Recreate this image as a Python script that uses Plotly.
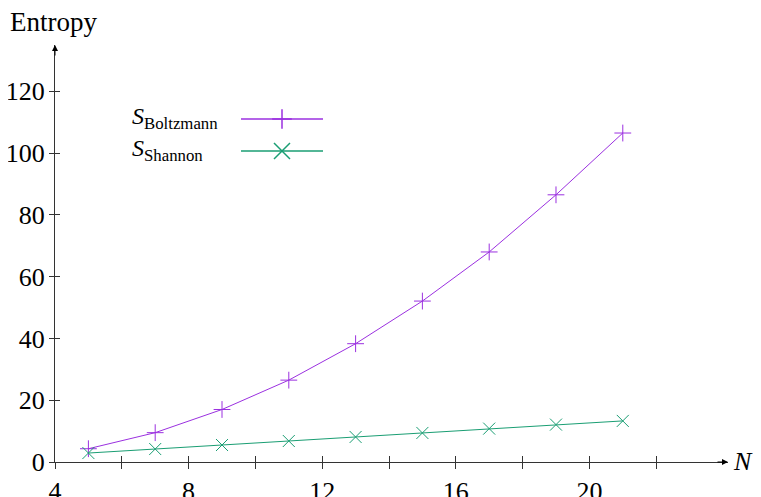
import plotly.graph_objects as go

N = [5, 7, 9, 11, 13, 15, 17, 19, 21]
S_boltzmann = [4.3, 9.5, 17.0, 26.5, 38.3, 52.1, 68.0, 86.5, 106.5]
S_shannon = [2.9, 4.2, 5.5, 6.8, 8.1, 9.4, 10.8, 12.1, 13.3]

x_ticks = [4, 6, 8, 10, 12, 14, 16, 18, 20, 22]
x_ticklabels = ["4", "", "8", "", "12", "", "16", "", "20", ""]
y_ticks = [0, 20, 40, 60, 80, 100, 120]

PURPLE = "#9b30e0"
GREEN = "#1a9e73"
AX = "#333333"
FONT = "Liberation Serif"

X_RANGE = [4, 24.15]
Y_RANGE = [0, 135]

# the page body has an 8px margin; work in screenshot pixel coordinates
OFF = 8
PL, PR, PT, PB = 55, 728, 45, 462          # plot area in screenshot pixels
W, H = 761 - OFF, 497 - OFF
L, T = PL - OFF, PT - OFF
R, B = W - (PR - OFF), H - (PB - OFF)
PW, PH = PR - PL, PB - PT


def px_to_paper(px, py):
    return (px - PL) / PW, (PB - py) / PH


fig = go.Figure()

fig.add_trace(go.Scatter(
    x=N, y=S_boltzmann, mode="lines+markers", name="S_Boltzmann",
    line=dict(color=PURPLE, width=1),
    marker=dict(symbol="cross-thin", size=12, line=dict(color=PURPLE, width=1), color=PURPLE),
    showlegend=False, cliponaxis=False))
fig.add_trace(go.Scatter(
    x=N, y=S_shannon, mode="lines+markers", name="S_Shannon",
    line=dict(color=GREEN, width=1),
    marker=dict(symbol="x-thin", size=12, line=dict(color=GREEN, width=1), color=GREEN),
    showlegend=False, cliponaxis=False))

# overlay axes for the other half of the crossing ticks
fig.add_trace(go.Scatter(x=[None], y=[None], xaxis="x3", yaxis="y3", showlegend=False, hoverinfo="skip"))

# custom legend (screenshot-pixel coords on separate hidden axes)
legend_items = [("<i>S</i><sub>Boltzmann</sub>", PURPLE, "cross-thin", 119, 14),
                ("<i>S</i><sub>Shannon</sub>", GREEN, "x-thin", 151, 16)]
for label, col, sym, py, msize in legend_items:
    fig.add_trace(go.Scatter(x=[241, 323], y=[py, py], xaxis="x2", yaxis="y2", mode="lines",
                             line=dict(color=col, width=1.5), showlegend=False, hoverinfo="skip"))
    fig.add_trace(go.Scatter(x=[282], y=[py], xaxis="x2", yaxis="y2", mode="markers",
                             marker=dict(symbol=sym, size=msize, line=dict(color=col, width=1.5), color=col),
                             showlegend=False, hoverinfo="skip", cliponaxis=False))
    fig.add_annotation(x=130, y=py - 1, xref="x2", yref="y2", text=label, showarrow=False,
                       xanchor="left", yanchor="middle",
                       font=dict(family=FONT, size=24, color="black"))

fig.update_layout(
    width=W, height=H,
    margin=dict(l=L, r=R, t=T, b=B, autoexpand=False),
    paper_bgcolor="white", plot_bgcolor="white",
    font=dict(family=FONT, size=26, color="black"),
    xaxis=dict(range=X_RANGE, tickvals=x_ticks, ticktext=x_ticklabels,
               ticks="outside", ticklen=6, tickcolor=AX, tickwidth=1,
               showline=True, linecolor=AX, linewidth=1, showgrid=False, zeroline=False,
               ticklabelstandoff=0, tickfont=dict(size=26), automargin=False),
    yaxis=dict(range=Y_RANGE, tickvals=y_ticks,
               ticks="inside", ticklen=5, tickcolor=AX, tickwidth=1,
               showline=True, linecolor=AX, linewidth=1, showgrid=False, zeroline=False,
               ticklabelstandoff=4, tickfont=dict(size=26), automargin=False),
    xaxis3=dict(overlaying="x", range=X_RANGE, tickvals=x_ticks, showticklabels=False,
                ticks="inside", ticklen=6, tickcolor=AX, showline=False, showgrid=False, zeroline=False,
                automargin=False),
    yaxis3=dict(overlaying="y", range=Y_RANGE, tickvals=y_ticks, showticklabels=False,
                ticks="outside", ticklen=5, tickcolor=AX, showline=False, showgrid=False, zeroline=False,
                anchor="x3", automargin=False),
    xaxis2=dict(overlaying="x", range=[PL, PR], visible=False, fixedrange=True),
    yaxis2=dict(overlaying="y", range=[PB, PT], visible=False, fixedrange=True, anchor="x2"),
)

# axis arrows
fig.add_annotation(x=X_RANGE[1], y=0, xref="x", yref="y", ax=-12, ay=0, text="",
                   showarrow=True, arrowhead=2, arrowsize=1.2, arrowwidth=1, arrowcolor="black")
fig.add_annotation(x=4, y=Y_RANGE[1], xref="x", yref="y", ax=0, ay=12, text="",
                   showarrow=True, arrowhead=2, arrowsize=1.2, arrowwidth=1, arrowcolor="black")

# axis labels
ex, ey = px_to_paper(8, 22)
fig.add_annotation(x=ex, y=ey, xref="paper", yref="paper", text="Entropy", showarrow=False,
                   xanchor="left", yanchor="middle", font=dict(family=FONT, size=27))
nx, ny = px_to_paper(731, 461)
fig.add_annotation(x=nx, y=ny, xref="paper", yref="paper", text="<i>N</i>", showarrow=False,
                   xanchor="left", yanchor="middle", font=dict(family=FONT, size=26))

fig.write_html("out.html")
